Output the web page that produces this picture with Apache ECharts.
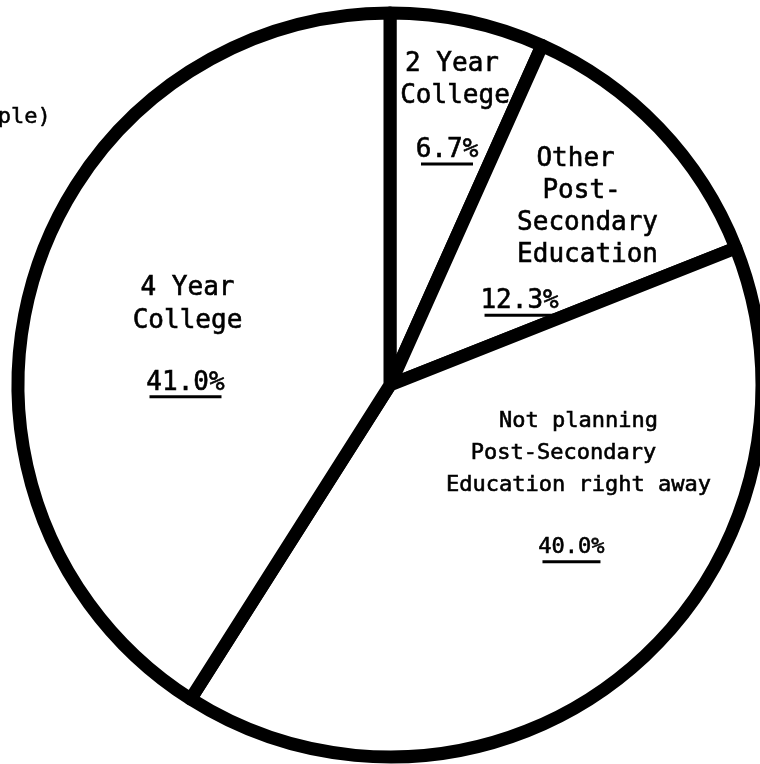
<!DOCTYPE html>
<html>
<head>
<meta charset="utf-8">
<script src="https://cdn.jsdelivr.net/npm/echarts@6/dist/echarts.min.js"></script>
<style>
  html, body { margin: 0; padding: 0; background: #fff; }
  #grafica { width: 760px; height: 764px; }
</style>
</head>
<body>
<div id="grafica"></div>
<script>
// datos de la grafica
const categorias = ['2 Year College', 'Other Post-Secondary Education', 'Not planning Post-Secondary Education right away', '4 Year College'];
const porcentajes = [6.7, 12.3, 40.0, 41.0];
const textos = [
  ['2 Year', 'College'],
  ['Other', 'Post-', 'Secondary', 'Education'],
  ['Not planning', 'Post-Secondary', 'Education right away'],
  ['4 Year', 'College']
];
const tituloCortado = 'people)';

// ajustes de cada etiqueta (solo estilo)
const ajustes = [
  { pos: 'center', offset: [65, -278], fs: 26, lh: 32, gap: 26, shifts: [3, 0], pshift: 8, ul: 52 },
  { pos: 'inside', offset: [61, -24], fs: 26, lh: 32, gap: 18, shifts: [12, 6, 0, 0], pshift: 68, ul: 70 },
  { pos: 'inside', offset: [68, -46], fs: 22, lh: 32, gap: 34, shifts: [0, 15, 0], pshift: 7, ul: 58 },
  { pos: 'inside', offset: [-21, 3], fs: 26, lh: 33, gap: 33, shifts: [0, 0], pshift: 2, ul: 72 }
];

const fuente = '"DejaVu Sans Mono", "Liberation Mono", monospace';

function conCorrimiento(texto, shift, rich) {
  if (!shift) return texto;
  const k = 'r' + Math.abs(shift);
  rich[k] = { width: Math.abs(shift) * 2, fontSize: 2 };
  return shift > 0 ? `${texto}{${k}| }` : `{${k}| }${texto}`;
}

function etiqueta(i) {
  const a = ajustes[i];
  const estiloTexto = { fontFamily: fuente, fontSize: a.fs, color: '#000', textBorderColor: '#000', textBorderWidth: 0.6 };
  const rich = {
    t: Object.assign({ lineHeight: a.lh }, estiloTexto),
    s: { fontSize: 2, lineHeight: a.gap },
    p: Object.assign({ lineHeight: 24 }, estiloTexto),
    u: { width: a.ul, height: 3, lineHeight: 4, fontSize: 2, backgroundColor: '#000' }
  };
  const lineas = textos[i].map((t, j) => conCorrimiento(`{t|${t}}`, a.shifts[j], rich)).join('\n');
  const pct = porcentajes[i].toFixed(1) + '%';
  const formato = `${lineas}\n{s| }\n${conCorrimiento(`{p|${pct}}`, a.pshift, rich)}\n${conCorrimiento('{u| }', a.pshift, rich)}`;
  return { show: true, position: a.pos, offset: a.offset, formatter: formato, rich: rich };
}

const datos = categorias.map((c, i) => ({ name: c, value: porcentajes[i], label: etiqueta(i) }));

const myChart = echarts.init(document.getElementById('grafica'));
const option = {
  animation: false,
  backgroundColor: '#fff',
  title: {
    text: tituloCortado,
    left: -42,
    top: 106,
    padding: 0,
    textStyle: { fontFamily: fuente, fontSize: 22, fontWeight: 'normal', color: '#000', textBorderColor: '#000', textBorderWidth: 0.5 }
  },
  series: [{
    type: 'pie',
    center: [390, 385],
    radius: 372,
    startAngle: 90,
    clockwise: true,
    silent: true,
    avoidLabelOverlap: false,
    labelLayout: { hideOverlap: false },
    emphasis: { disabled: true },
    itemStyle: { color: '#fff', borderColor: '#000', borderWidth: 13 },
    labelLine: { show: false },
    data: datos
  }]
};
myChart.setOption(option);
</script>
</body>
</html>
